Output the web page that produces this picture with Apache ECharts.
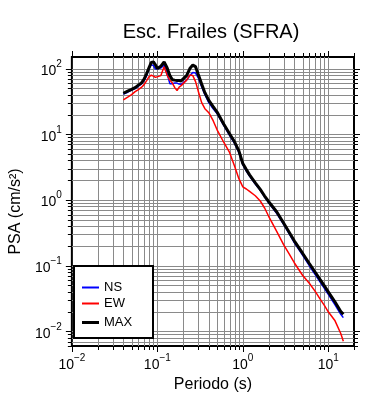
<!DOCTYPE html>
<html>
<head>
<meta charset="utf-8">
<script src="https://cdn.jsdelivr.net/npm/echarts@6/dist/echarts.min.js"></script>
<style>
html, body { margin: 0; padding: 0; background: #fff; }
#main { width: 390px; height: 400px; }
</style>
</head>
<body>
<div id="main"></div>
<script>
// periodos (s) y PSA (cm/s2)
var periods = [0.04, 0.045, 0.05, 0.055, 0.06, 0.065, 0.07, 0.075, 0.08, 0.085, 0.09, 0.095,
  0.1, 0.11, 0.12, 0.13, 0.14, 0.15, 0.16, 0.17, 0.18, 0.19, 0.2, 0.22, 0.24, 0.26, 0.28, 0.3,
  0.33, 0.36, 0.4, 0.45, 0.5, 0.6, 0.7, 0.8, 0.9, 1.0, 1.1, 1.2, 1.4, 1.6, 1.8, 2.0, 2.5, 3.0,
  3.5, 4, 5, 6, 7, 8, 9, 10, 12, 14, 15];
var psaNS = [40.8, 43.7, 47.0, 49.5, 54.1, 58.0, 65.6, 78.2, 100, 115, 111, 98.3,
  93.1, 101.8, 113, 84, 59.0, 59.0, 60.1, 60.1, 58.0, 57.6, 60.1, 66.7, 78.2, 86.9, 85.4, 72.9,
  53.1, 40.1, 30.3, 24.5, 20.6, 13.5, 9.66, 7.29, 5.31, 3.45, 2.75, 2.32, 1.75, 1.40, 1.11, 0.916, 0.62, 0.425,
  0.305, 0.224, 0.145, 0.100, 0.0742, 0.0570, 0.0453, 0.0367, 0.0254, 0.0182, 0.0162];
var psaEW = [33.3, 36.7, 40.1, 44.5, 47.8, 51.6, 57.0, 65.6, 75.5, 79.1, 76.8, 73.4,
  74.2, 78.2, 107, 79.6, 66.7, 60.1, 51.3, 46.1, 52.2, 55.0, 58.0, 66.7, 79.6, 78.2, 63.3, 46.1,
  30.3, 24.5, 21.3, 16.1, 11.7, 7.5, 5.3, 3.3, 2.11, 1.58, 1.47, 1.35, 1.16, 0.965, 0.755, 0.570, 0.33, 0.21,
  0.15, 0.111, 0.0716, 0.054, 0.041, 0.0313, 0.0249, 0.0199, 0.0145, 0.0093, 0.0071];
var psaMAX = [42.1, 45.3, 48.3, 51.3, 56.0, 60.1, 69.2, 84.0, 103.5, 124, 126, 114,
  100, 109, 126, 103, 78.2, 67.5, 66.7, 66.0, 65.6, 64.9, 69.2, 78.2, 100, 113, 107, 82.4,
  58.0, 43.0, 32.8, 26.3, 21.8, 14.2, 10.2, 7.68, 5.60, 3.6, 2.9, 2.41, 1.82, 1.45, 1.15, 0.95, 0.656, 0.446,
  0.321, 0.239, 0.155, 0.108, 0.0803, 0.0618, 0.0492, 0.0400, 0.0280, 0.0201, 0.0182];

var seriesNames = ['NS', 'EW', 'MAX'];
var seriesColors = ['#0000ff', '#ff0000', '#000000'];
var decades = [-3, -2, -1, 0, 1, 2];
var mantissas = [1, 2, 3, 4, 5, 6, 7, 8, 9];

var X_MIN = 0.01, X_MAX = 20, Y_MIN = 0.006, Y_MAX = 150;
var FONT = 'Liberation Sans';
var GRID_GRAY = '#8a8a8a';

function logTicks(lo, hi) {
  var out = [];
  decades.forEach(function (e) {
    mantissas.forEach(function (m) {
      var v = m * Math.pow(10, e);
      if (v >= lo * 0.999 && v <= hi * 1.001) out.push({ v: v, major: m === 1 ? 1 : 0 });
    });
  });
  return out;
}

function pow10Label(v) {
  var l = Math.log10(v), e = Math.round(l);
  if (Math.abs(l - e) > 1e-6) return '';
  return '{b|10}{s|' + (e < 0 ? '\u2212' : '') + Math.abs(e) + '}';
}

var labelRich = {
  b: { fontSize: 14, fontFamily: FONT, color: '#000', lineHeight: 19, verticalAlign: 'bottom' },
  s: { fontSize: 10, fontFamily: FONT, color: '#000', lineHeight: 10, verticalAlign: 'top' }
};

function pair(vals) {
  return periods.map(function (t, i) { return [t, vals[i]]; });
}

var xTicks = logTicks(X_MIN, X_MAX).map(function (d) { return [d.v, Y_MIN, d.major]; });
var yTicks = logTicks(Y_MIN, Y_MAX).map(function (d) { return [X_MIN, d.v, d.major]; });

function snap(p) { return Math.round(p) + 0.5; }

var myChart = echarts.init(document.getElementById('main'));
myChart.setOption({
  animation: false,
  backgroundColor: '#fff',
  title: {
    text: 'Esc. Frailes (SFRA)',
    left: 206,
    top: 17,
    textAlign: 'center',
    textStyle: { fontFamily: FONT, fontSize: 20, fontWeight: 'normal', color: '#000' }
  },
  grid: {
    left: 66, right: 36, top: 57, bottom: 54,
    show: true, borderColor: '#000', borderWidth: 2, backgroundColor: 'transparent'
  },
  xAxis: {
    type: 'log', logBase: 10, min: X_MIN, max: X_MAX,
    name: 'Periodo (s)', nameLocation: 'middle', nameGap: 29,
    nameTextStyle: { fontFamily: FONT, fontSize: 16, color: '#000' },
    axisLine: { show: false }, axisTick: { show: false }, splitLine: { show: false },
    axisLabel: { formatter: pow10Label, rich: labelRich, margin: 7, showMinLabel: true, showMaxLabel: true }
  },
  yAxis: {
    type: 'log', logBase: 10, min: Y_MIN, max: Y_MAX,
    name: 'PSA (cm/s\u00b2)', nameLocation: 'middle', nameGap: 42,
    nameTextStyle: { fontFamily: FONT, fontSize: 16, color: '#000', padding: [0, 20, 0, 0] },
    axisLine: { show: false }, axisTick: { show: false }, splitLine: { show: false },
    axisLabel: { formatter: pow10Label, rich: labelRich, margin: 10 }
  },
  legend: seriesNames.map(function (n, i) {
    return {
      data: [n], left: 82, top: [281, 297, 316][i], padding: 0,
      icon: 'rect', itemWidth: 17, itemHeight: i === 2 ? 3 : 2, z: 20,
      textStyle: { fontFamily: FONT, fontSize: 13, color: '#000' }
    };
  }),
  graphic: [{
    type: 'rect', z: 15,
    shape: { x: 74, y: 266, width: 79, height: 72 },
    style: { fill: '#fff', stroke: '#000', lineWidth: 2 }
  }],
  series: [{
    type: 'custom', name: 'xgrid', silent: true, clip: false, z: 1,
    data: xTicks,
    renderItem: function (params, api) {
      var v = api.value(0), major = api.value(2);
      var b = api.coord([v, Y_MIN]), t = api.coord([v, Y_MAX]);
      var x = snap(b[0]), len = major ? 6 : 4, kids = [];
      if (v > X_MIN * 1.001 && v < X_MAX * 0.999) {
        kids.push({ type: 'line', shape: { x1: x, y1: t[1], x2: x, y2: b[1] }, style: { stroke: GRID_GRAY, lineWidth: 1 } });
      }
      kids.push({ type: 'line', shape: { x1: x, y1: b[1], x2: x, y2: b[1] + len }, style: { stroke: '#000', lineWidth: 1 } });
      kids.push({ type: 'line', shape: { x1: x, y1: t[1], x2: x, y2: t[1] - len }, style: { stroke: '#000', lineWidth: 1 } });
      return { type: 'group', children: kids };
    }
  }, {
    type: 'custom', name: 'ygrid', silent: true, clip: false, z: 1,
    data: yTicks,
    renderItem: function (params, api) {
      var v = api.value(1), major = api.value(2);
      var l = api.coord([X_MIN, v]), r = api.coord([X_MAX, v]);
      var y = snap(l[1]), len = major ? 6 : 4, kids = [];
      if (v > Y_MIN * 1.001 && v < Y_MAX * 0.999) {
        kids.push({ type: 'line', shape: { x1: l[0], y1: y, x2: r[0], y2: y }, style: { stroke: GRID_GRAY, lineWidth: 1 } });
      }
      kids.push({ type: 'line', shape: { x1: l[0], y1: y, x2: l[0] - len, y2: y }, style: { stroke: '#000', lineWidth: 1 } });
      kids.push({ type: 'line', shape: { x1: r[0], y1: y, x2: r[0] + len, y2: y }, style: { stroke: '#000', lineWidth: 1 } });
      return { type: 'group', children: kids };
    }
  }, {
    name: 'NS', type: 'line', data: pair(psaNS), showSymbol: false, z: 3,
    color: seriesColors[0], lineStyle: { width: 1.5, color: seriesColors[0] }
  }, {
    name: 'EW', type: 'line', data: pair(psaEW), showSymbol: false, z: 3,
    color: seriesColors[1], lineStyle: { width: 1.5, color: seriesColors[1] }
  }, {
    name: 'MAX', type: 'line', data: pair(psaMAX), showSymbol: false, z: 4,
    color: seriesColors[2], lineStyle: { width: 3, color: seriesColors[2] }
  }]
});
</script>
</body>
</html>
